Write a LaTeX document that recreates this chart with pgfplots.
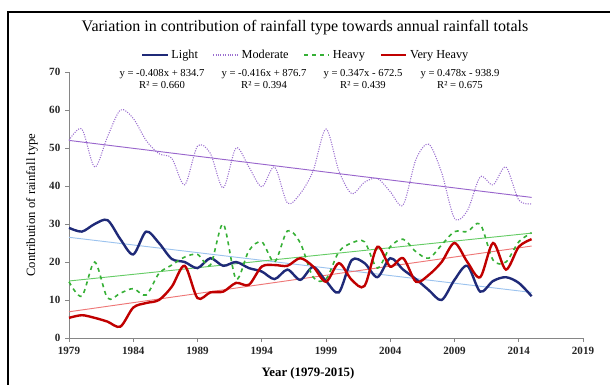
\documentclass[border=0pt]{standalone}
\usepackage{pgfplots}
\pgfplotsset{compat=1.18}
\usepackage{fontspec}
\setmainfont{Liberation Serif}
\definecolor{cLight}{HTML}{1F2A78}
\definecolor{cMod}{HTML}{9B6FD0}
\definecolor{cHeavy}{HTML}{36B036}
\definecolor{cVH}{HTML}{C00000}
\definecolor{tLight}{HTML}{9CC3EE}
\definecolor{tMod}{HTML}{9966CC}
\definecolor{tHeavy}{HTML}{66CC66}
\definecolor{tVH}{HTML}{EE7777}
\definecolor{axgray}{HTML}{868686}
\begin{document}
\begin{tikzpicture}
\useasboundingbox (-51.75pt,-35.25pt) rectangle (405.75pt,253.5pt);
\draw[black, line width=0.8pt] (-45.75pt,-35.25pt) -- (-45.75pt,244.5pt) -- (405.75pt,244.5pt);
\node[font=\fontsize{12}{14}\selectfont] at (177pt,232.5pt) {Variation in contribution of rainfall type towards annual rainfall totals};
\begin{axis}[
  at={(0pt,0pt)}, anchor=south west,
  scale only axis, width=385.5pt, height=199.5pt,
  xmin=1979, xmax=2019, ymin=0, ymax=70,
  xtick={1979,1984,...,2019}, ytick={0,10,...,70},
  axis x line=bottom, axis y line=left,
  axis line style={-, draw=axgray, line width=0.6pt},
  x axis line style={-}, y axis line style={-},
  tick align=outside, major tick length=3pt,
  tick style={axgray, line width=0.6pt},
  ticklabel style={font=\fontsize{8.3}{10}\selectfont\bfseries, text=black!85},
  /pgf/number format/assume math mode=true,
  xticklabel style={/pgf/number format/1000 sep=},
  xlabel={\bfseries Year (1979-2015)},
  xlabel style={font=\fontsize{9.6}{11}\selectfont, at={(axis description cs:0.465,-0.132)}, anchor=center},
  ylabel={Contribution of rainfall type},
  ylabel style={font=\fontsize{9.5}{11}\selectfont, at={(axis description cs:-0.072,0.5)}, anchor=center},
  legend columns=4,
  legend style={draw=none, fill=none, at={(0.461,1.064)}, anchor=center,
    font=\fontsize{9.2}{10}\selectfont,
    /tikz/every even column/.append style={column sep=9pt}},
  legend image code/.code={\draw[#1] (0pt,0pt) -- (19pt,0pt);},
  clip=false,
]
% trend lines
\addplot[tLight, line width=0.7pt, forget plot] coordinates {(1979,26.5) (2015,12.0)};
\addplot[tMod, line width=0.7pt, forget plot] coordinates {(1979,52.0) (2015,37.0)};
\addplot[tHeavy, line width=0.7pt, forget plot] coordinates {(1979,15.0) (2015,27.6)};
\addplot[tVH, line width=0.7pt, forget plot] coordinates {(1979,6.9) (2015,24.2)};
% data
\addplot[cLight, line width=1.8pt, smooth, tension=0.5] coordinates {
(1979,29) (1980,28) (1981,30) (1982,31) (1983,26) (1984,22) (1985,28) (1986,25)
(1987,20.8) (1988,20) (1989,18.4) (1990,21) (1991,19) (1992,20) (1993,18.4)
(1994,17.5) (1995,15.5) (1996,18) (1997,15.3) (1998,18.7) (1999,15) (2000,12)
(2001,20.5) (2002,19.7) (2003,16) (2004,21) (2005,18) (2006,15.5) (2007,12.6)
(2008,10) (2009,15.3) (2010,19) (2011,12.2) (2012,15) (2013,16) (2014,14.5) (2015,11)};
\addlegendentry{Light}
\addplot[cMod, line width=0.8pt, densely dotted, smooth, tension=0.5] coordinates {
(1979,52) (1980,55) (1981,45) (1982,53) (1983,60) (1984,57.8) (1985,52) (1986,48.5)
(1987,47.3) (1988,40.3) (1989,50.5) (1990,48.6) (1991,39.5) (1992,50) (1993,45)
(1994,39.8) (1995,45) (1996,35.5) (1997,38) (1998,44) (1999,55) (2000,44)
(2001,38) (2002,41) (2003,42) (2004,38.5) (2005,35) (2006,47) (2007,51)
(2008,43.5) (2009,31.5) (2010,33.5) (2011,42.4) (2012,40.3) (2013,45) (2014,36.3) (2015,35.3)};
\addlegendentry{Moderate}
\addplot[cHeavy, line width=1.2pt, dashed, smooth, tension=0.5] coordinates {
(1979,14.8) (1980,11) (1981,20) (1982,10.5) (1983,11.8) (1984,13) (1985,11.3) (1986,17)
(1987,19.2) (1988,21.3) (1989,22) (1990,19.2) (1991,30) (1992,15.5) (1993,23)
(1994,25.3) (1995,20) (1996,28.2) (1997,25) (1998,16) (1999,15.5) (2000,22.7)
(2001,25) (2002,25.3) (2003,18.4) (2004,24) (2005,26) (2006,22.7) (2007,21)
(2008,24.5) (2009,28) (2010,28) (2011,30) (2012,20.5) (2013,20) (2014,25.3) (2015,27.7)};
\addlegendentry{Heavy}
\addplot[cVH, line width=1.8pt, smooth, tension=0.5] coordinates {
(1979,5.3) (1980,6) (1981,5.3) (1982,4.3) (1983,3) (1984,8) (1985,9.2) (1986,10)
(1987,13.5) (1988,19) (1989,10.5) (1990,12) (1991,12.2) (1992,14.5) (1993,14)
(1994,18.8) (1995,19.2) (1996,19) (1997,21) (1998,18.8) (1999,14.8) (2000,19.7)
(2001,15.3) (2002,13.7) (2003,24) (2004,18.8) (2005,21) (2006,14.8) (2007,16.6)
(2008,20) (2009,25) (2010,20) (2011,16) (2012,25) (2013,18) (2014,24) (2015,26)};
\addlegendentry{Very Heavy}
\end{axis}
\begin{scope}[every node/.style={align=center, font=\fontsize{8}{9}\selectfont}]
\node at (69.75pt,194.25pt) {y = -0.408x + 834.7\\R² = 0.660};
\node at (146.25pt,194.25pt) {y = -0.416x + 876.7\\R² = 0.394};
\node at (220.5pt,194.25pt) {y = 0.347x - 672.5\\R² = 0.439};
\node at (293.25pt,194.25pt) {y = 0.478x - 938.9\\R² = 0.675};
\end{scope}
\end{tikzpicture}
\end{document}
